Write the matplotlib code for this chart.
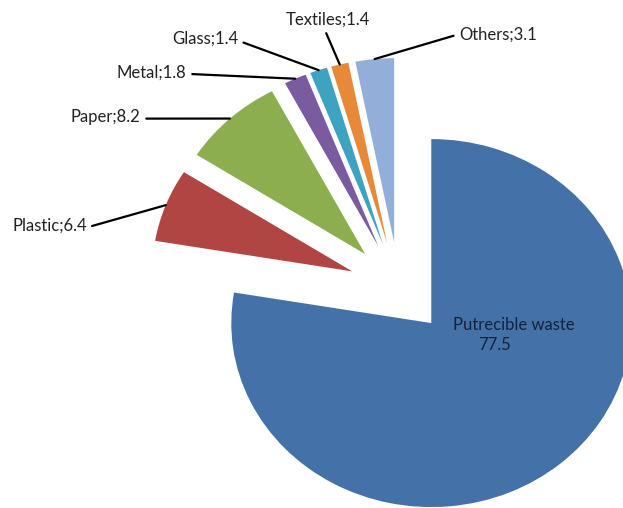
import numpy as np
import matplotlib.pyplot as plt

labels = ['Putrecible waste', 'Plastic', 'Paper', 'Metal', 'Glass', 'Textiles', 'Others']
values = [77.5, 6.4, 8.2, 1.8, 1.4, 1.4, 3.1]
colors = ['#4472a8', '#b04543', '#8cae4f', '#7a5b9f', '#3ea3c0', '#e8893a', '#93afd9']

# where the outside labels sit (data coords), and where the leader starts on the text box
label_pos = [None, (-1.935, 0.337), (-1.64, 0.929), (-1.41, 1.168),
             (-1.135, 1.353), (-0.565, 1.457), (0.30, 1.375)]
label_rel = [None, (1, 0.4), (1, 0.4), (1, 0.45), (1, 0.4), (0.45, 0), (0, 0.55)]

plt.rcParams['font.family'] = ['Lato', 'DejaVu Sans']

fig = plt.figure(figsize=(6.23, 5.08), dpi=100)
ax = fig.add_axes([0, 0, 1, 1])

wedges, _ = ax.pie(values, colors=colors, startangle=90, counterclock=False,
                   explode=[0.25] * len(values), radius=1,
                   wedgeprops=dict(linewidth=0))
ax.set_aspect('auto')
ax.set_xlim(-1.995, 1.12)
ax.set_ylim(-1.196, 1.565)
ax.axis('off')

for i in range(1, len(values)):
    w = wedges[i]
    ang = np.deg2rad((w.theta1 + w.theta2) / 2)
    cx, cy = w.center
    xy = (cx + w.r * np.cos(ang), cy + w.r * np.sin(ang))
    ax.annotate(f'{labels[i]};{values[i]}', xy=xy, xytext=label_pos[i],
                ha='left', va='center', fontsize=12, color='#222222',
                arrowprops=dict(arrowstyle='-', color='black', lw=1.6,
                                relpos=label_rel[i], shrinkA=2, shrinkB=0))

ax.text(0.27, -0.201, labels[0], ha='left', va='center', fontsize=12, color='#14213d')
ax.text(0.395, -0.31, str(values[0]), ha='left', va='center', fontsize=12, color='#14213d')

fig.savefig('out.png', dpi=100)
